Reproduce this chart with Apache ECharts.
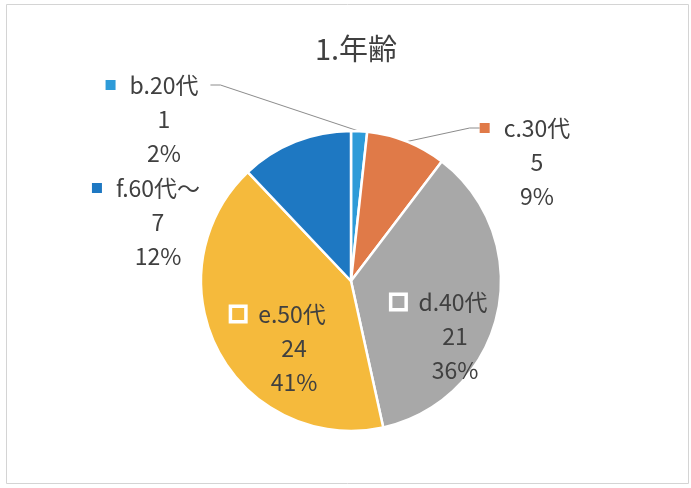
<!DOCTYPE html>
<html>
<head>
<meta charset="utf-8">
<script src="https://cdn.jsdelivr.net/npm/echarts@6/dist/echarts.min.js"></script>
<style>
  html, body { margin: 0; padding: 0; background: #fff; }
  #chart { width: 691px; height: 488px; }
</style>
</head>
<body>
<div id="chart"></div>
<script>
  // data
  var titleText = '1.年齢';
  var categories = ['b.20代', 'c.30代', 'd.40代', 'e.50代', 'f.60代～'];
  var counts = [1, 5, 21, 24, 7];

  // styles
  var colors = ['#2E9BD8', '#E07A48', '#A8A8A8', '#F5BA3C', '#1E78C2'];
  var boxedKey = [false, false, true, true, false];   // legend key drawn with white frame (inside labels)
  var showLine = [true, true, false, false, false];
  var labelPos = [[164, 119], [537, 162], [455, 336], [294, 348], [158, 222]]; // centre of 3-line block
  var LINE_H = 34;
  var FONT = 'Noto Sans CJK JP';

  var chart = echarts.init(document.getElementById('chart'));

  var rich = {
    t: { fontSize: 23, color: '#404040', lineHeight: LINE_H, fontFamily: FONT },
    gap: { width: 14, height: 10 },
    pad: { width: 24, height: 10 },
    padB: { width: 30, height: 10 }
  };
  colors.forEach(function (c, i) {
    if (boxedKey[i]) {
      rich['sq' + i] = { width: 12, height: 12, backgroundColor: c, borderColor: '#fff', borderWidth: 3.5, verticalAlign: 'middle' };
    } else {
      rich['sq' + i] = { width: 10, height: 10, backgroundColor: c, verticalAlign: 'middle' };
    }
  });

  function pieData(transparent) {
    return categories.map(function (name, i) {
      return {
        name: name,
        value: counts[i],
        itemStyle: { color: transparent ? 'rgba(0,0,0,0)' : colors[i] },
        labelLine: { show: !transparent && showLine[i] }
      };
    });
  }

  var pieBase = {
    type: 'pie',
    center: [351, 281],
    radius: 150,
    startAngle: 90,
    clockwise: true,
    percentPrecision: 0,
    animation: false
  };

  var option = {
    backgroundColor: '#fff',
    title: {
      text: titleText,
      left: 356,
      top: 34,
      padding: 0,
      textAlign: 'center',
      textStyle: { fontSize: 29, fontWeight: 'normal', color: '#404040', fontFamily: FONT }
    },
    graphic: [{
      type: 'rect',
      shape: { x: 6.5, y: 4.5, width: 682, height: 479 },
      style: { fill: 'none', stroke: '#d4d4d4', lineWidth: 1 },
      silent: true
    }],
    series: [
      // slices + category name with legend key (first label line)
      Object.assign({}, pieBase, {
        itemStyle: { borderColor: '#fff', borderWidth: 2.5 },
        label: {
          show: true,
          position: 'outside',
          formatter: function (p) {
            var i = p.dataIndex;
            var pad = boxedKey[i] ? 'padB' : 'pad';
            return '{sq' + i + '|}{gap|}{t|' + p.name + '}{' + pad + '|}';
          },
          rich: rich
        },
        labelLine: {
          show: true,
          length: 6,
          length2: 10,
          lineStyle: { color: '#8c8c8c', width: 1 }
        },
        labelLayout: function (params) {
          var pos = labelPos[params.dataIndex];
          return { x: pos[0], y: pos[1] - LINE_H, align: 'center', verticalAlign: 'middle' };
        },
        data: pieData(false)
      }),
      // value and percentage lines
      Object.assign({}, pieBase, {
        silent: true,
        itemStyle: { borderWidth: 0 },
        label: {
          show: true,
          position: 'outside',
          formatter: function (p) {
            return '{t|' + p.value + '}\n{t|' + p.percent + '%}';
          },
          rich: rich
        },
        labelLine: { show: false },
        labelLayout: function (params) {
          var pos = labelPos[params.dataIndex];
          return { x: pos[0], y: pos[1] + LINE_H / 2, align: 'center', verticalAlign: 'middle' };
        },
        data: pieData(true)
      })
    ]
  };

  chart.setOption(option);
</script>
</body>
</html>
